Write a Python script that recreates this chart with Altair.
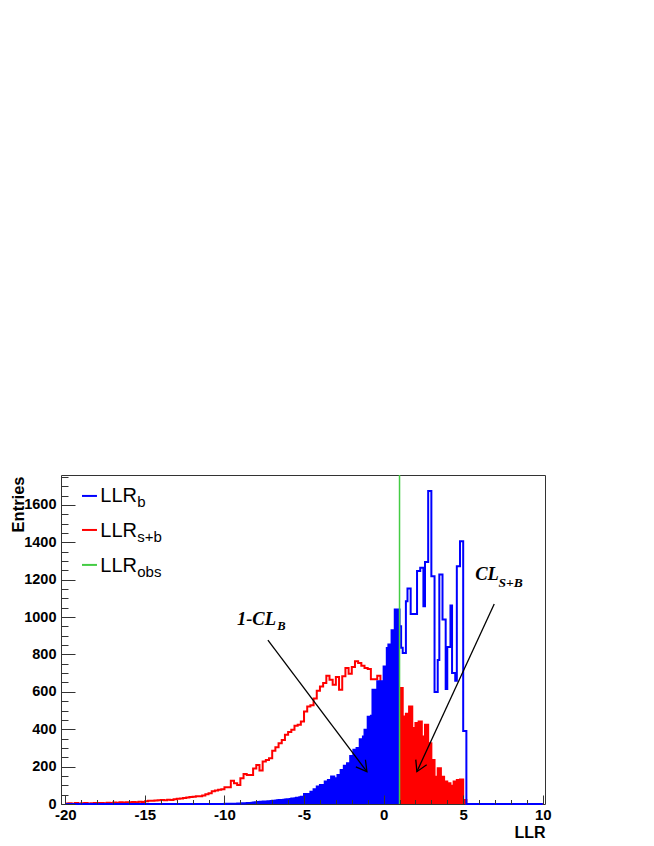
import altair as alt
import pandas as pd

# ---------------- data ----------------
llr_obs = 1.0

# LLR_{s+b}: bins of 0.2 covering -20 .. 10
red_start, red_width = -20.0, 0.2
red_counts = [
    3, 4, 2, 5, 3, 4, 5, 3, 4, 5,
    5, 6, 4, 7, 6,
    8, 7, 9, 8, 10,
    9, 11, 10, 12, 11,
    15, 17, 18, 19, 20,
    21, 20, 23, 22, 26,
    28, 30, 32, 35, 37,
    39, 42, 41, 45, 52,
    58, 68, 72,
    76, 79, 89, 89, 125, 111, 102, 138, 161, 155,
    155, 190, 209, 179, 227, 236, 245, 285, 304, 325,
    343, 370, 385, 397, 418, 424, 441, 495, 522, 528,
    565, 606, 629, 647, 686, 665, 638, 679, 611, 683,
    727, 697, 733, 763, 754, 740, 727, 722, 668, 668,
    686, 638, 650, 640, 625, 630, 615, 620, 468, 483,
    522, 406, 433, 441, 361, 424, 325, 236, 146, 191,
    146, 120, 111, 97, 120, 129, 131, 21,
    0, 0, 0, 0, 0, 0, 0, 0, 0, 0, 0, 0,
    0, 0, 0, 0, 0, 0, 0, 0, 0, 0, 0, 0,
]

# LLR_b: bins of 0.1 covering -20 .. 10
blue_start, blue_width = -20.0, 0.1
blue_counts = (
    [0] * 100
    + [
        1, 0, 1, 1, 2, 1, 2, 2, 3, 2, 3, 4, 3, 4, 5, 5, 6, 7,
        8, 9, 10, 11, 12, 11, 13, 12, 14, 15, 14, 16,
        17, 18, 19, 20, 21, 20, 22, 23, 24, 25,
        26, 27, 29, 30, 31, 33, 34, 36,
        39, 39, 54, 54, 54, 54, 66, 66, 79, 79, 93, 93, 102, 102, 102,
        120, 120, 129, 129, 147, 147, 138, 138, 155, 155, 182, 182,
        204, 204, 218, 218, 257, 257, 290, 290, 299, 299, 347, 347, 361,
        397, 397, 467, 467, 472, 611, 611, 611, 656, 656, 656, 656,
        736, 736, 835, 853, 853, 929, 929, 1040, 1040, 1040,
        951, 836, 808, 808, 1085, 1153, 1153, 1017, 1017, 1017, 1017,
        1246, 1246, 1264, 1264, 1058, 1294, 1294, 1675, 1675, 1219, 1219,
        599, 599, 770, 1228, 1228, 987, 987, 615, 840, 840, 1062,
        701, 701, 660, 1272, 1272, 1405, 1405, 390, 390,
    ]
    + [0] * 48
)

x_ticks_major = [-20, -15, -10, -5, 0, 5, 10]
x_ticks_minor = list(range(-20, 11))
y_ticks_major = list(range(0, 1601, 200))
y_ticks_minor = list(range(0, 1751, 50))

legend_names = ["LLR", "LLR", "LLR"]
legend_subs = ["b", "s+b", "obs"]
legend_colors = ["#0000ff", "#ff0000", "#44cc44"]


def steps(start, width, counts):
    xs = [round(start + width * i, 3) for i in range(len(counts))]
    end = round(start + width * len(counts), 3)
    return pd.DataFrame({"x": xs + [end], "n": list(counts) + [0]})


red_df = steps(red_start, red_width, red_counts)
blue_df = steps(blue_start, blue_width, blue_counts)
blue_fill_df = pd.concat(
    [blue_df[blue_df.x < llr_obs - 1e-6], pd.DataFrame({"x": [llr_obs], "n": [0]})]
)
red_fill_df = red_df[red_df.x >= llr_obs - 1e-6]
one = pd.DataFrame({"a": [0]})

W, H = 484, 329
FONT = "Liberation Sans"
SERIF = "Liberation Serif"

xscale = alt.Scale(domain=[-20.27, 10.14], nice=False, zero=False)
yscale = alt.Scale(domain=[0, 1760], nice=False)

major_x = alt.Axis(
    orient="bottom", values=x_ticks_major, offset=-9, tickSize=9, tickColor="#333",
    domain=False, grid=False, labelFont=FONT, labelFontWeight="bold", labelFontSize=15,
    labelColor="black", labelPadding=3, labelFlush=False, labelOverlap=False,
    labelExpr="datum.value < 0 ? '-' + abs(datum.value) : '' + datum.value",
    title="LLR", titleFont=FONT, titleFontWeight="bold", titleFontSize=16,
    titleColor="black", titleAlign="right", titleAnchor="end", titleX=W, titleY=42,
    titleBaseline="alphabetic", zindex=1,
)
major_y = alt.Axis(
    orient="left", values=y_ticks_major, offset=-14, tickSize=14, tickColor="#333",
    domain=False, grid=False, labelFont=FONT, labelFontWeight="bold", labelFontSize=14.5,
    labelColor="black", labelPadding=5, labelFlush=False, labelOverlap=False, format="d",
    title="Entries", titleFont=FONT, titleFontWeight="bold", titleFontSize=16.5,
    titleColor="black", titleAngle=270, titleAlign="right", titleBaseline="alphabetic",
    titleX=-52, titleY=1, zindex=1,
)
minor_x = alt.Axis(
    orient="bottom", values=x_ticks_minor, offset=-4.5, tickSize=4.5, tickColor="#333",
    domain=False, grid=False, labels=False, title=None, zindex=1,
)
minor_y = alt.Axis(
    orient="left", values=y_ticks_minor, offset=-7, tickSize=7, tickColor="#333",
    domain=False, grid=False, labels=False, title=None, zindex=1,
)

red_line = alt.Chart(red_df).mark_line(
    interpolate="step-after", color="#ff0000", strokeWidth=2
).encode(
    x=alt.X("x:Q", scale=xscale, axis=major_x),
    y=alt.Y("n:Q", scale=yscale, axis=major_y),
)
blue_fill = alt.Chart(blue_fill_df).mark_area(
    interpolate="step-after", color="#0000ff"
).encode(x=alt.X("x:Q", axis=None), y=alt.Y("n:Q", axis=None))
red_fill = alt.Chart(red_fill_df).mark_area(
    interpolate="step-after", color="#ff0000"
).encode(x=alt.X("x:Q", axis=None), y=alt.Y("n:Q", axis=None))
blue_line = alt.Chart(blue_df).mark_line(
    interpolate="step-after", color="#0000ff", strokeWidth=2
).encode(
    x=alt.X("x:Q", axis=minor_x),
    y=alt.Y("n:Q", axis=minor_y),
)
obs_line = alt.Chart(one).mark_rule(color="#44cc44", strokeWidth=1.5).encode(
    x=alt.XDatum(llr_obs, axis=None), y=alt.value(0), y2=alt.value(H)
)


def text_layer(txt, x, y, size, font=FONT, weight="normal", style="normal"):
    return alt.Chart(one).mark_text(
        text=txt, font=font, fontSize=size, fontWeight=weight, fontStyle=style,
        align="left", baseline="alphabetic", color="black",
    ).encode(x=alt.XDatum(x, axis=None), y=alt.YDatum(y, axis=None))


def arrow(x0, y0, x1, y1, ang):
    shaft = alt.Chart(one).mark_rule(color="black", strokeWidth=1.3).encode(
        x=alt.XDatum(x0, axis=None), y=alt.YDatum(y0, axis=None),
        x2=alt.X2Datum(x1), y2=alt.Y2Datum(y1),
    )
    head = alt.Chart(one).mark_point(
        shape="M-0.5,-0.87L0,0L0.5,-0.87", size=576, angle=ang, filled=False,
        stroke="black", strokeWidth=1.3, opacity=1,
    ).encode(x=alt.XDatum(x1, axis=None), y=alt.YDatum(y1, axis=None))
    return [shaft, head]


layers = [red_line, blue_fill, red_fill, blue_line, obs_line]
layers += arrow(-7.27, 877, -1.05, 173, 323.1)
layers += arrow(6.95, 1070, 2.09, 173, 24.7)
layers.append(text_layer("1-CL", -9.215, 957, 18.5, SERIF, "bold", "italic"))
layers.append(text_layer("B", -6.68, 931, 12.5, SERIF, "bold", "italic"))
layers.append(text_layer("CL", 5.75, 1198, 18.5, SERIF, "bold", "italic"))
layers.append(text_layer("S+B", 7.22, 1162, 13.5, SERIF, "bold", "italic"))

leg_line_y = [1648, 1466, 1279]
leg_text_y = [1617, 1427, 1243]
leg_sub_y = [1590, 1400, 1216]
for i in range(3):
    layers.append(
        alt.Chart(one).mark_rule(color=legend_colors[i], strokeWidth=2).encode(
            x=alt.XDatum(-18.95, axis=None), x2=alt.X2Datum(-18.01),
            y=alt.YDatum(leg_line_y[i], axis=None),
        )
    )
    layers.append(text_layer(legend_names[i], -17.80, leg_text_y[i], 20))
    layers.append(text_layer(legend_subs[i], -15.48, leg_sub_y[i], 15))

chart = (
    alt.layer(*layers)
    .resolve_axis(x="independent", y="independent")
    .properties(
        width=W, height=H,
        padding={"left": 53, "top": 467, "right": 20, "bottom": 36},
        autosize=alt.AutoSizeParams(type="none"),
        background="white",
    )
    .configure_view(stroke="#333", strokeWidth=1)
)

chart.save("out.html", embed_options={"renderer": "svg", "actions": False})
